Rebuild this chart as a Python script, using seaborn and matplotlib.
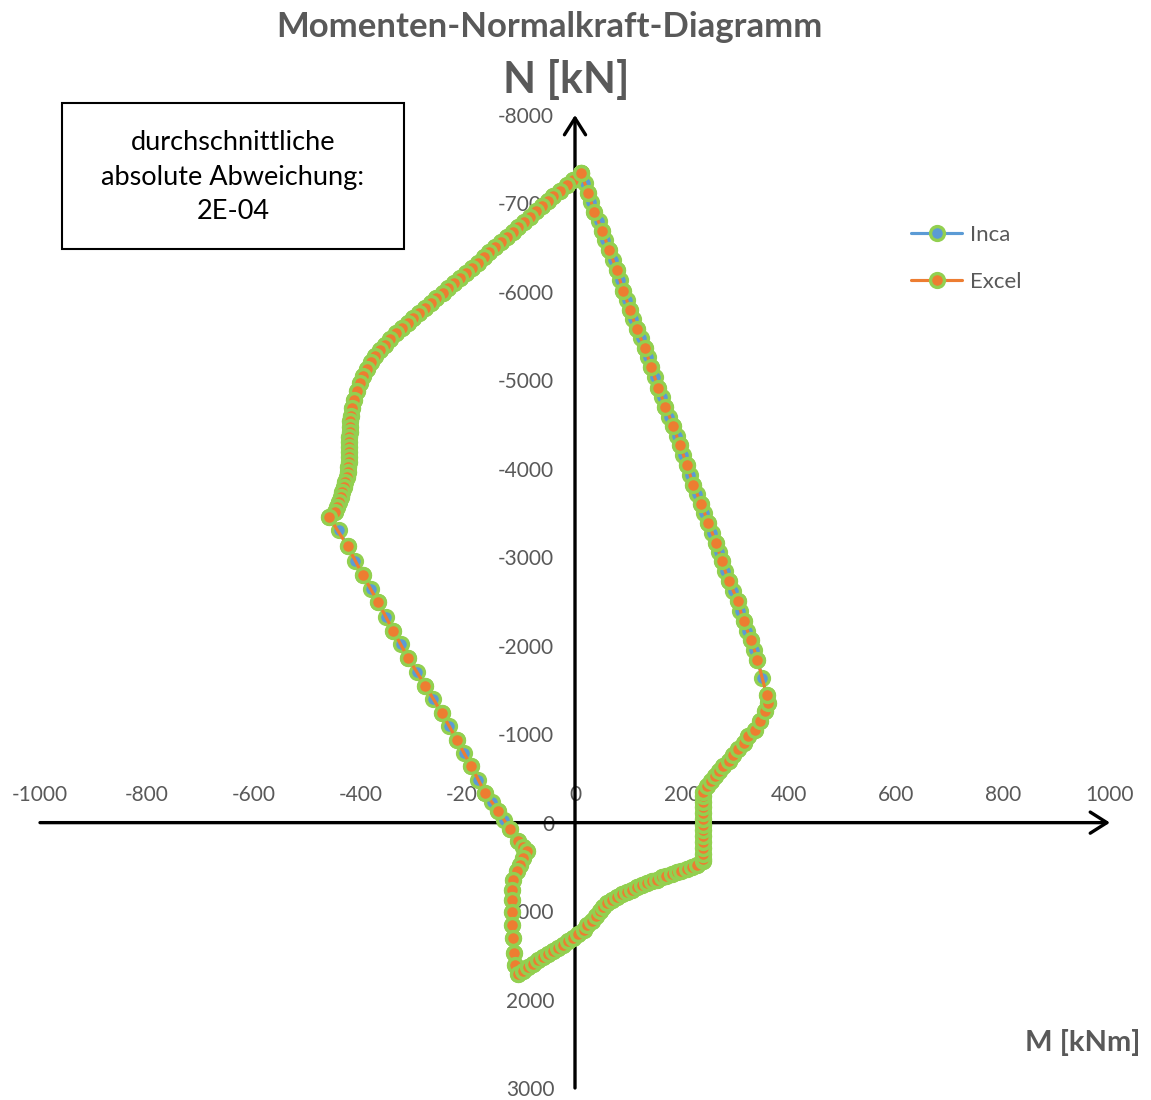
import matplotlib
matplotlib.use("Agg")
import matplotlib.pyplot as plt
import seaborn as sns
from matplotlib.patches import Rectangle, ArrowStyle

# Interaction diagram points: bending moment M [kNm] and normal force N [kN]
inca_M = [
    11, -3, -15, -28, -41, -51, -62, -73, -84, -95, -106, -116, -128, -138, -150,
    -160, -171, -182, -193, -204, -215, -226, -237, -247, -259, -269, -280, -291,
    -302, -313, -324, -335, -346, -355, -365, -374, -381, -389, -396, -402, -408,
    -413, -416, -419, -420, -421, -421, -422, -422, -422, -422, -422, -423, -424,
    -425, -427, -429, -432, -435, -438, -442, -445, -449, -460,
    -442, -425, -411, -397, -382, -368, -353, -340, -325, -312, -296, -280, -265,
    -249, -235, -221, -208, -194, -181, -168, -156, -143, -132, -122, -106, -98, -90,
    -97, -103, -109, -115, -118, -118, -118, -117, -116, -114, -112, -106,
    -97, -87, -78, -69, -59, -50, -41, -31, -22, -13, -3, 6, 16, 23, 31, 39, 47,
    53, 60, 69, 78, 87, 97, 106, 115, 125, 134, 143, 153, 162, 171, 181, 190, 199,
    209, 218, 228, 240,
    240, 239, 239, 239, 239, 239, 239, 239, 239, 239, 239, 239, 240, 246, 254, 262,
    270, 277, 287, 296, 305, 315, 324, 336, 345, 355, 360, 358,
    350, 341, 335, 329, 322, 315, 309, 304, 296, 288, 281, 274, 269, 264, 256, 249,
    242, 236, 228, 221, 215, 209, 202, 196, 190, 184, 176, 169, 163, 156, 149, 142,
    136, 131, 123, 115, 109, 103, 97, 90, 84, 78, 71, 64, 57, 51, 44, 36, 30, 25,
    18, 11,
]
inca_N = [
    -7345, -7270, -7203, -7138, -7081, -7025, -6968, -6912, -6848, -6792, -6735,
    -6674, -6617, -6561, -6509, -6448, -6391, -6328, -6272, -6215, -6158, -6102,
    -6045, -5989, -5932, -5876, -5819, -5763, -5706, -5650, -5593, -5537, -5472,
    -5404, -5340, -5272, -5204, -5130, -5054, -4971, -4876, -4782, -4689, -4594,
    -4537, -4477, -4421, -4364, -4308, -4251, -4195, -4138, -4082, -4025, -3968,
    -3912, -3855, -3799, -3742, -3686, -3629, -3573, -3516, -3460,
    -3313, -3124, -2962, -2804, -2646, -2491, -2329, -2171, -2018, -1862, -1707,
    -1549, -1394, -1240, -1089, -938, -788, -637, -486, -336, -232, -128, -30, 71,
    211, 270, 325,
    400, 475, 551, 644, 757, 871, 1006, 1153, 1300, 1470, 1605, 1707,
    1673, 1632, 1594, 1557, 1518, 1484, 1455, 1417, 1379, 1342, 1304, 1255, 1210,
    1161, 1116, 1059, 1003, 953, 908, 871, 840, 811, 783, 757, 731, 709, 682, 664,
    644, 618, 599, 580, 562, 543, 523, 501, 475, 438,
    410, 350, 286, 218, 155, 87, 23, -42, -110, -173, -234, -297, -350, -410, -467,
    -523, -580, -637, -693, -769, -833, -901, -976, -1051, -1145, -1258, -1350, -1447,
    -1639, -1843, -1956, -2069, -2172, -2276, -2393, -2510, -2619, -2728, -2841,
    -2954, -3058, -3162, -3275, -3388, -3496, -3603, -3712, -3821, -3935, -4048,
    -4157, -4266, -4374, -4481, -4591, -4700, -4809, -4918, -5035, -5152, -5260,
    -5367, -5475, -5582, -5691, -5800, -5908, -6015, -6134, -6252, -6361, -6470,
    -6582, -6693, -6799, -6905, -7012, -7119, -7232, -7345,
]

excel_M = [
    11, -3, -15, -28, -41, -51, -62, -73, -84, -95, -106, -116, -128, -138, -150,
    -160, -171, -182, -193, -204, -215, -226, -237, -247, -259, -269, -280, -291,
    -302, -313, -324, -335, -346, -355, -365, -374, -381, -389, -396, -402, -408,
    -413, -416, -419, -420, -421, -421, -422, -422, -422, -422, -422, -423, -424,
    -425, -427, -429, -432, -435, -438, -442, -445, -449, -460,
    -425, -397, -368, -340, -312, -280, -249, -221, -194, -168, -143, -122, -106,
    -98, -90,
    -97, -103, -109, -115, -118, -118, -118, -117, -116, -114, -112, -106,
    -97, -87, -78, -69, -59, -50, -41, -31, -22, -13, -3, 6, 16, 23, 31, 39, 47,
    53, 60, 69, 78, 87, 97, 106, 115, 125, 134, 143, 153, 162, 171, 181, 190, 199,
    209, 218, 228, 240,
    240, 239, 239, 239, 239, 239, 239, 239, 239, 239, 239, 239, 240, 246, 254, 262,
    270, 277, 287, 296, 305, 315, 324, 336, 345, 355, 360, 358,
    341, 329, 315, 304, 288, 274, 264, 249, 236, 221, 209, 196, 184, 169, 156, 142,
    131, 115, 103, 90, 78, 64, 51, 36, 25, 11,
]
excel_N = [
    -7345, -7270, -7203, -7138, -7081, -7025, -6968, -6912, -6848, -6792, -6735,
    -6674, -6617, -6561, -6509, -6448, -6391, -6328, -6272, -6215, -6158, -6102,
    -6045, -5989, -5932, -5876, -5819, -5763, -5706, -5650, -5593, -5537, -5472,
    -5404, -5340, -5272, -5204, -5130, -5054, -4971, -4876, -4782, -4689, -4594,
    -4537, -4477, -4421, -4364, -4308, -4251, -4195, -4138, -4082, -4025, -3968,
    -3912, -3855, -3799, -3742, -3686, -3629, -3573, -3516, -3460,
    -3124, -2804, -2491, -2171, -1862, -1549, -1240, -938, -637, -336, -128, 71,
    211, 270, 325,
    400, 475, 551, 644, 757, 871, 1006, 1153, 1300, 1470, 1605, 1707,
    1673, 1632, 1594, 1557, 1518, 1484, 1455, 1417, 1379, 1342, 1304, 1255, 1210,
    1161, 1116, 1059, 1003, 953, 908, 871, 840, 811, 783, 757, 731, 709, 682, 664,
    644, 618, 599, 580, 562, 543, 523, 501, 475, 438,
    410, 350, 286, 218, 155, 87, 23, -42, -110, -173, -234, -297, -350, -410, -467,
    -523, -580, -637, -693, -769, -833, -901, -976, -1051, -1145, -1258, -1350, -1447,
    -1843, -2069, -2276, -2510, -2728, -2954, -3162, -3388, -3603, -3821, -4048,
    -4266, -4481, -4700, -4918, -5152, -5367, -5582, -5800, -6015, -6252, -6470,
    -6693, -6905, -7119, -7345,
]

series_labels = ["Inca", "Excel"]
x_ticks = [-1000, -800, -600, -400, -200, 0, 200, 400, 600, 800, 1000]
y_ticks = [-8000, -7000, -6000, -5000, -4000, -3000, -2000, -1000, 0, 1000, 2000, 3000]
x_tick_labels = [str(v) for v in x_ticks]
y_tick_labels = [str(v) for v in y_ticks]

title_text = "Momenten-Normalkraft-Diagramm"
n_axis_title = "N [kN]"
m_axis_title = "M [kNm]"
note_text = "durchschnittliche\nabsolute Abweichung:\n2E-04"

sns.set_theme(style="white")
plt.rcParams["font.family"] = ["Lato", "DejaVu Sans"]
plt.rcParams["axes.unicode_minus"] = False

BLUE = "#5B9BD5"
ORANGE = "#ED7D31"
GREEN = "#92D050"
GREY = "#595959"

W, H = 1151, 1100
fig = plt.figure(figsize=(W / 100, H / 100), dpi=100)
fig.patch.set_facecolor("white")
ax = fig.add_axes([40 / W, 12 / H, 1070 / W, 973 / H])
ax.set_facecolor("white")

marker_kw = dict(marker="o", markersize=10, markeredgecolor=GREEN,
                 markeredgewidth=2.4)
sns.lineplot(x=inca_M, y=inca_N, sort=False, estimator=None, color=BLUE,
             linewidth=2.25, markerfacecolor=BLUE, label=series_labels[0],
             ax=ax, zorder=3, **marker_kw)
sns.lineplot(x=excel_M, y=excel_N, sort=False, estimator=None, color=ORANGE,
             linewidth=2.25, markerfacecolor=ORANGE, label=series_labels[1],
             ax=ax, zorder=4, **marker_kw)

ax.set_xlim(-1000, 1000)
ax.set_ylim(3000, -8000)
ax.set_xlabel("")
ax.set_ylabel("")

# axes cross at the origin; labels for M sit above the horizontal axis
ax.spines["top"].set_position(("data", 0))
ax.spines["left"].set_position(("data", 0))
for s in ax.spines.values():
    s.set_visible(False)
ax.xaxis.set_ticks_position("top")
ax.set_xticks(x_ticks, labels=x_tick_labels)
ax.set_yticks(y_ticks, labels=y_tick_labels)
ax.tick_params(axis="both", length=0, labelsize=15, labelcolor=GREY)
ax.tick_params(axis="x", pad=13, top=True, labeltop=True, bottom=False,
               labelbottom=False)
ax.tick_params(axis="y", pad=15)
ax.grid(False)

arrow = ArrowStyle("->", head_length=0.6, head_width=0.38)
for start, end in [((-1000, 0), (1000, 0)), ((0, 3000), (0, -8000))]:
    ax.annotate("", xy=end, xytext=start, annotation_clip=False, zorder=1,
                arrowprops=dict(arrowstyle=arrow, color="black", lw=2.4,
                                mutation_scale=20, shrinkA=0, shrinkB=0))

leg = ax.legend(loc="upper left", bbox_to_anchor=(911 / W, 1 - 225 / H),
                bbox_transform=fig.transFigure, frameon=False, fontsize=16,
                handlelength=2.3, handletextpad=0.35, labelspacing=1.2,
                borderpad=0, borderaxespad=0)
for t in leg.get_texts():
    t.set_color(GREY)

fig.text(549 / W, 1 - 27 / H, title_text, ha="center", va="center",
         fontsize=25, fontweight="bold", color=GREY)
fig.text(566 / W, 1 - 80 / H, n_axis_title, ha="center", va="center",
         fontsize=31, fontweight="bold", color=GREY)
fig.text(1140 / W, 1 - 1042 / H, m_axis_title, ha="right", va="center",
         fontsize=21, fontweight="bold", color=GREY)

fig.add_artist(Rectangle((62 / W, 1 - 249 / H), 342 / W, 146 / H,
                         transform=fig.transFigure, fill=False,
                         edgecolor="black", linewidth=1.5))
fig.text(233 / W, 1 - 177 / H, note_text, ha="center", va="center",
         fontsize=19.5, linespacing=1.47, color="black")

fig.savefig("out.png", dpi=100)
